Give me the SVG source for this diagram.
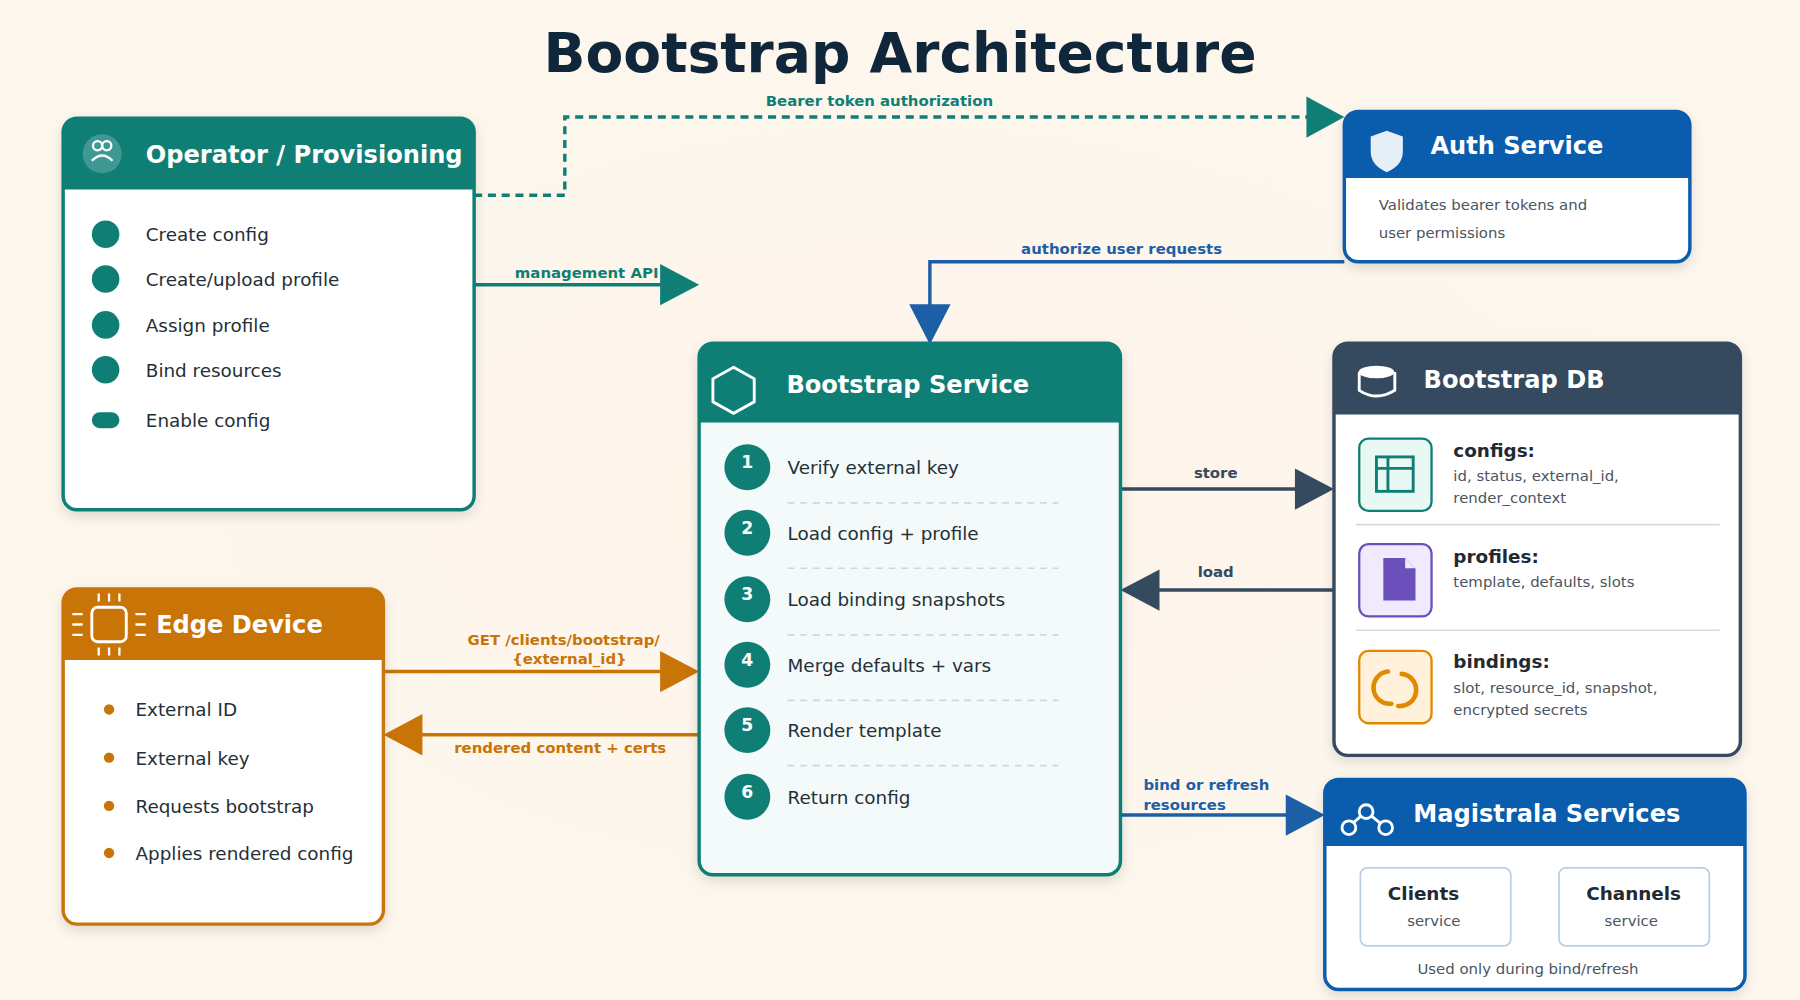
<svg xmlns="http://www.w3.org/2000/svg" width="1800" height="1000" viewBox="0 0 1800 1000">
<defs>
<radialGradient id="bg" cx="50%" cy="50%" r="70%"><stop offset="0" stop-color="#fdf5ea"/><stop offset="1" stop-color="#fdf7ee"/></radialGradient>
<filter id="sh" x="-10%" y="-10%" width="120%" height="125%"><feDropShadow dx="0" dy="4" stdDeviation="5" flood-color="#000" flood-opacity="0.12"/></filter>
<style>
text{font-family:"DejaVu Sans","Liberation Sans",sans-serif;}
.h{font-size:21px;font-weight:bold;fill:#fff}
.b{font-size:16px;fill:#243038}
.s{font-size:13px;fill:#4a5560}
.lb{font-size:13px;font-weight:bold}
.dt{font-size:16px;font-weight:bold;fill:#1f2a33}
.num{font-size:15px;font-weight:bold;fill:#fff;text-anchor:middle}
.sep{stroke:#c9dcdc;stroke-width:1.5;stroke-dasharray:6 5}
</style>
</defs>
<rect width="1800" height="1000" fill="url(#bg)"/>
<g transform="scale(1.148)">
<text x="784" y="63" text-anchor="middle" font-size="48" font-weight="bold" fill="#10263b">Bootstrap Architecture</text>

<g id="connectors" fill="none" stroke-width="3">
<path d="M413,170 H492 V102 H1140" stroke="#0f7f76" stroke-dasharray="7 5"/>
<polygon points="1138,84 1171,102 1138,120" fill="#0f7f76" stroke="none"/>
<text x="766" y="92" text-anchor="middle" class="lb" fill="#0f7f76" stroke="none">Bearer token authorization</text>
<path d="M413,248 H577" stroke="#0f7f76"/>
<polygon points="575,230 609,248 575,266" fill="#0f7f76" stroke="none"/>
<text x="511" y="242" text-anchor="middle" class="lb" fill="#0f7f76" stroke="none">management API</text>
<path d="M1171,228 H810 V267" stroke="#1d5fa6"/>
<polygon points="792,265 828,265 810,300" fill="#1d5fa6" stroke="none"/>
<text x="977" y="221" text-anchor="middle" class="lb" fill="#1d5fa6" stroke="none">authorize user requests</text>
<path d="M976,426 H1130" stroke="#354a5f"/>
<polygon points="1128,408 1162,426 1128,444" fill="#354a5f" stroke="none"/>
<text x="1059" y="416" text-anchor="middle" class="lb" fill="#354a5f" stroke="none">store</text>
<path d="M1162,514 H1008" stroke="#354a5f"/>
<polygon points="1010,496 976,514 1010,532" fill="#354a5f" stroke="none"/>
<text x="1059" y="503" text-anchor="middle" class="lb" fill="#354a5f" stroke="none">load</text>
<path d="M334,585 H577" stroke="#c87407"/>
<polygon points="575,567 609,585 575,603" fill="#c87407" stroke="none"/>
<text x="491" y="562" text-anchor="middle" class="lb" fill="#c87407" stroke="none">GET /clients/bootstrap/</text>
<text x="496" y="578" text-anchor="middle" class="lb" fill="#c87407" stroke="none">{external_id}</text>
<path d="M609,640 H366" stroke="#c87407"/>
<polygon points="368,622 334,640 368,658" fill="#c87407" stroke="none"/>
<text x="488" y="656" text-anchor="middle" class="lb" fill="#c87407" stroke="none">rendered content + certs</text>
<path d="M976,710 H1122" stroke="#1d5fa6"/>
<polygon points="1120,692 1154,710 1120,728" fill="#1d5fa6" stroke="none"/>
<text x="996" y="688" class="lb" fill="#1d5fa6" stroke="none">bind or refresh</text>
<text x="996" y="706" class="lb" fill="#1d5fa6" stroke="none">resources</text>
</g>

<g id="operator">
<rect x="55" y="103" width="358" height="341" rx="12" fill="#fff" stroke="#0f7f76" stroke-width="3" filter="url(#sh)"/>
<path d="M55,165 V115 Q55,103 67,103 H401 Q413,103 413,115 V165 Z" fill="#0f7f76"/>
<circle cx="89" cy="134" r="17" fill="#fff" fill-opacity="0.2"/>
<circle cx="85" cy="127" r="4" fill="none" stroke="#fff" stroke-width="2"/><circle cx="93" cy="127" r="4" fill="none" stroke="#fff" stroke-width="2"/>
<path d="M80,140 Q89,131 98,140" fill="none" stroke="#fff" stroke-width="2"/>
<text x="127" y="142" class="h">Operator / Provisioning</text>
<g fill="#0f7f76"><circle cx="92" cy="204" r="12"/><circle cx="92" cy="243" r="12"/><circle cx="92" cy="283" r="12"/><circle cx="92" cy="322" r="12"/><rect x="80" y="359" width="24" height="14" rx="7"/></g>
<text x="127" y="210" class="b">Create config</text>
<text x="127" y="249" class="b">Create/upload profile</text>
<text x="127" y="289" class="b">Assign profile</text>
<text x="127" y="328" class="b">Bind resources</text>
<text x="127" y="372" class="b">Enable config</text>
</g>

<g id="auth">
<rect x="1171" y="97" width="301" height="131" rx="12" fill="#fff" stroke="#0a5cad" stroke-width="3" filter="url(#sh)"/>
<path d="M1171,155 V109 Q1171,97 1183,97 H1460 Q1472,97 1472,109 V155 Z" fill="#0a5cad"/>
<path d="M1208,114 L1222,119 V132 Q1222,144 1208,150 Q1194,144 1194,132 V119 Z" fill="#e6eef7"/>
<text x="1246" y="134" class="h">Auth Service</text>
<text x="1201" y="183" class="s">Validates bearer tokens and</text>
<text x="1201" y="207" class="s">user permissions</text>
</g>

<g id="bootstrap-service">
<rect x="609" y="299" width="367" height="463" rx="12" fill="#f3faf9" stroke="#0f7f76" stroke-width="3" filter="url(#sh)"/>
<path d="M609,368 V311 Q609,299 621,299 H964 Q976,299 976,311 V368 Z" fill="#0f7f76"/>
<polygon points="639,320 657,330 657,350 639,360 621,350 621,330" fill="none" stroke="#fff" stroke-width="2.5"/>
<text x="685" y="342" class="h">Bootstrap Service</text>
<g fill="#0f7f76"><circle cx="651" cy="407" r="20"/><circle cx="651" cy="464" r="20"/><circle cx="651" cy="522" r="20"/><circle cx="651" cy="579" r="20"/><circle cx="651" cy="636" r="20"/><circle cx="651" cy="694" r="20"/></g>
<text x="651" y="408" class="num">1</text><text x="651" y="465" class="num">2</text><text x="651" y="523" class="num">3</text><text x="651" y="580" class="num">4</text><text x="651" y="637" class="num">5</text><text x="651" y="695" class="num">6</text>
<text x="686" y="413" class="b">Verify external key</text>
<text x="686" y="470" class="b">Load config + profile</text>
<text x="686" y="528" class="b">Load binding snapshots</text>
<text x="686" y="585" class="b">Merge defaults + vars</text>
<text x="686" y="642" class="b">Render template</text>
<text x="686" y="700" class="b">Return config</text>
<path class="sep" d="M686,438 H922 M686,495 H922 M686,553 H922 M686,610 H922 M686,667 H922"/>
</g>

<g id="bootstrap-db">
<rect x="1162" y="299" width="354" height="359" rx="12" fill="#fff" stroke="#354a5f" stroke-width="3" filter="url(#sh)"/>
<path d="M1162,361 V311 Q1162,299 1174,299 H1504 Q1516,299 1516,311 V361 Z" fill="#354a5f"/>
<path d="M1184,324 V340 Q1199,350 1215,340 V324" fill="none" stroke="#fff" stroke-width="2.5"/>
<ellipse cx="1199" cy="324" rx="15.5" ry="5.5" fill="#fff"/>
<text x="1240" y="338" class="h">Bootstrap DB</text>
<rect x="1184" y="382" width="63" height="63" rx="8" fill="#e8f8f2" stroke="#0f7f76" stroke-width="2"/>
<g fill="none" stroke="#0f7f76" stroke-width="2.5"><rect x="1199" y="398" width="32" height="30"/><path d="M1199,408 H1231 M1209,398 V428"/></g>
<rect x="1184" y="474" width="63" height="63" rx="8" fill="#efebfd" stroke="#6b4fbb" stroke-width="2"/>
<path d="M1205,486 H1224 L1233,495 V523 H1205 Z" fill="#6b4fbb"/><path d="M1224,486 V495 H1233" fill="#efebfd"/>
<rect x="1184" y="567" width="63" height="63" rx="8" fill="#fff1dc" stroke="#e08a00" stroke-width="2"/>
<path d="M1209,585 A14,14 0 0 0 1212,613" fill="none" stroke="#e08a00" stroke-width="4" stroke-linecap="round"/>
<path d="M1221,587 A14,14 0 0 1 1218,615" fill="none" stroke="#e08a00" stroke-width="4" stroke-linecap="round"/>
<path d="M1181,457 H1498 M1181,549 H1498" stroke="#d2dce3" stroke-width="1.5"/>
<text x="1266" y="398" class="dt">configs:</text>
<text x="1266" y="419" class="s">id, status, external_id,</text>
<text x="1266" y="438" class="s">render_context</text>
<text x="1266" y="490" class="dt">profiles:</text>
<text x="1266" y="511" class="s">template, defaults, slots</text>
<text x="1266" y="582" class="dt">bindings:</text>
<text x="1266" y="604" class="s">slot, resource_id, snapshot,</text>
<text x="1266" y="623" class="s">encrypted secrets</text>
</g>

<g id="edge-device">
<rect x="55" y="513" width="279" height="292" rx="12" fill="#fff" stroke="#c87407" stroke-width="3" filter="url(#sh)"/>
<path d="M55,575 V525 Q55,513 67,513 H322 Q334,513 334,525 V575 Z" fill="#c87407"/>
<rect x="80" y="529" width="30" height="30" rx="5" fill="none" stroke="#fff" stroke-width="2.5"/>
<path d="M86,517 V524 M95,517 V524 M104,517 V524 M86,564 V571 M95,564 V571 M104,564 V571 M63,535 H72 M63,544 H72 M63,553 H72 M118,535 H127 M118,544 H127 M118,553 H127" stroke="#fff" stroke-width="2"/>
<text x="136" y="551" class="h">Edge Device</text>
<g fill="#c87407"><circle cx="95" cy="618" r="4.5"/><circle cx="95" cy="660" r="4.5"/><circle cx="95" cy="702" r="4.5"/><circle cx="95" cy="743" r="4.5"/></g>
<text x="118" y="624" class="b">External ID</text>
<text x="118" y="666" class="b">External key</text>
<text x="118" y="708" class="b">Requests bootstrap</text>
<text x="118" y="749" class="b">Applies rendered config</text>
</g>

<g id="magistrala">
<rect x="1154" y="679" width="366" height="183" rx="12" fill="#fff" stroke="#0a5cad" stroke-width="3" filter="url(#sh)"/>
<path d="M1154,737 V691 Q1154,679 1166,679 H1508 Q1520,679 1520,691 V737 Z" fill="#0a5cad"/>
<path d="M1175,720 L1190,707 L1206,720" fill="none" stroke="#fff" stroke-width="2.5"/>
<g fill="#0a5cad" stroke="#fff" stroke-width="2.5"><circle cx="1190" cy="707" r="6"/><circle cx="1175" cy="721" r="6"/><circle cx="1207" cy="721" r="6"/></g>
<text x="1231" y="716" class="h">Magistrala Services</text>
<rect x="1185" y="756" width="131" height="68" rx="6" fill="#fff" stroke="#b9cde6" stroke-width="1.5"/>
<rect x="1358" y="756" width="131" height="68" rx="6" fill="#fff" stroke="#b9cde6" stroke-width="1.5"/>
<text x="1240" y="784" text-anchor="middle" class="dt">Clients</text>
<text x="1249" y="807" text-anchor="middle" class="s">service</text>
<text x="1423" y="784" text-anchor="middle" class="dt">Channels</text>
<text x="1421" y="807" text-anchor="middle" class="s">service</text>
<text x="1331" y="848" text-anchor="middle" class="s">Used only during bind/refresh</text>
</g>
</g>
</svg>
